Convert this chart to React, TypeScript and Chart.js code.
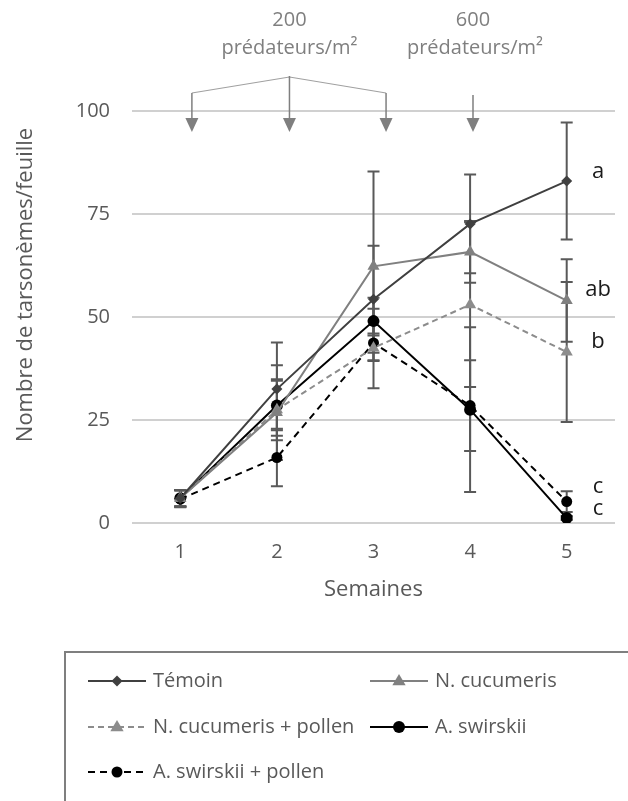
import React, { useEffect, useRef } from 'react';
import { Chart, registerables } from 'chart.js';

Chart.register(...registerables);

// ---- data ----
const weeks = ['1', '2', '3', '4', '5'];
const seriesNames = ['Témoin', 'N. cucumeris', 'N. cucumeris + pollen', 'A. swirskii', 'A. swirskii + pollen'];
const temoin = [6, 32.5, 54.3, 72.6, 83];
const temoinErr = [2, 11.3, 13, 12, 14.2];
const nCucumeris = [6, 26.8, 62.3, 65.8, 54];
const nCucumerisErr = [2, 11.5, 23, 7.5, 10];
const nCucumerisPollen = [6, 27.5, 42.5, 53, 41.5];
const nCucumerisPollenErr = [2, 7.4, 3, 20, 17];
const aSwirskii = [6, 28.5, 49, 27.5, 1.2];
const aSwirskiiErr = [2, 6, 3, 20, 0.5];
const aSwirskiiPollen = [5.8, 15.9, 43.7, 28.5, 5.2];
const aSwirskiiPollenErr = [2, 7, 11, 11, 2.5];
const yMin = 0;
const yMax = 100;
const yStep = 25;
const yTitle = 'Nombre de tarsonèmes/feuille';
const xTitle = 'Semaines';
// releases (category index positions)
const release200 = [0.12, 1.13, 2.13];
const release600 = [3.03];
const release200Text = ['200', 'prédateurs/m²'];
const release600Text = ['600', 'prédateurs/m²'];
const groupLetters = ['a', 'ab', 'b', 'c', 'c'];
const groupLetterValues = [85.3, 56.6, 44, 8.8, 3.4];

const FONT = "'Open Sans', 'DejaVu Sans', sans-serif";
const TEXT = '#595959';

function drawMarker(ctx: CanvasRenderingContext2D, style: string, x: number, y: number, r: number, color: string) {
  ctx.save();
  ctx.fillStyle = color;
  ctx.setLineDash([]);
  ctx.beginPath();
  if (style === 'circle') {
    ctx.arc(x, y, r, 0, Math.PI * 2);
  } else if (style === 'triangle') {
    ctx.moveTo(x, y - r);
    ctx.lineTo(x + r * 0.95, y + r * 0.6);
    ctx.lineTo(x - r * 0.95, y + r * 0.6);
    ctx.closePath();
  } else {
    ctx.moveTo(x, y - r);
    ctx.lineTo(x + r, y);
    ctx.lineTo(x, y + r);
    ctx.lineTo(x - r, y);
    ctx.closePath();
  }
  ctx.fill();
  ctx.restore();
}

const errorBarsPlugin = {
  id: 'errorBars',
  beforeDatasetsDraw(chart: any) {
    const { ctx } = chart;
    const xs = chart.scales.x;
    const ys = chart.scales.y;
    ctx.save();
    ctx.strokeStyle = '#595959';
    ctx.lineWidth = 2;
    chart.data.datasets.forEach((ds: any) => {
      ds.data.forEach((v: number, i: number) => {
        const e = ds.errors[i];
        const px = xs.getPixelForValue(i);
        const top = ys.getPixelForValue(v + e);
        const bot = ys.getPixelForValue(v - e);
        ctx.beginPath();
        ctx.moveTo(px, top);
        ctx.lineTo(px, bot);
        ctx.moveTo(px - 6, top);
        ctx.lineTo(px + 6, top);
        ctx.moveTo(px - 6, bot);
        ctx.lineTo(px + 6, bot);
        ctx.stroke();
      });
    });
    ctx.restore();
  },
};

const annotationsPlugin = {
  id: 'annotations',
  afterDraw(chart: any) {
    const { ctx, chartArea } = chart;
    const xs = chart.scales.x;
    const ys = chart.scales.y;
    const top = chartArea.top;
    ctx.save();
    // y title
    ctx.fillStyle = TEXT;
    ctx.font = `22px ${FONT}`;
    ctx.textAlign = 'center';
    ctx.textBaseline = 'middle';
    ctx.translate(26, 285);
    ctx.rotate(-Math.PI / 2);
    ctx.fillText(yTitle, 0, 0);
    ctx.restore();

    // release arrows
    ctx.save();
    const arrowColor = '#7f7f7f';
    const drawArrow = (px: number, fromY: number) => {
      ctx.strokeStyle = arrowColor;
      ctx.lineWidth = 1.5;
      ctx.beginPath();
      ctx.moveTo(px, fromY);
      ctx.lineTo(px, top + 8);
      ctx.stroke();
      ctx.fillStyle = arrowColor;
      ctx.beginPath();
      ctx.moveTo(px - 6.5, top + 7);
      ctx.lineTo(px + 6.5, top + 7);
      ctx.lineTo(px, top + 21);
      ctx.closePath();
      ctx.fill();
    };
    const p200 = release200.map((v) => xs.getPixelForValue(v));
    const peakX = p200[1];
    ctx.strokeStyle = '#a0a0a0';
    ctx.lineWidth = 1.2;
    ctx.beginPath();
    ctx.moveTo(p200[0], top - 18);
    ctx.lineTo(peakX, top - 34);
    ctx.lineTo(p200[2], top - 18);
    ctx.stroke();
    drawArrow(p200[0], top - 18);
    drawArrow(p200[1], top - 35);
    drawArrow(p200[2], top - 18);
    release600.forEach((v) => drawArrow(xs.getPixelForValue(v), top - 16));

    ctx.fillStyle = '#7f7f7f';
    ctx.font = `20px ${FONT}`;
    ctx.textAlign = 'center';
    ctx.textBaseline = 'middle';
    ctx.fillText(release200Text[0], peakX, 20);
    ctx.fillText(release200Text[1], peakX, 48);
    const p600 = xs.getPixelForValue(release600[0]);
    ctx.fillText(release600Text[0], p600, 20);
    ctx.fillText(release600Text[1], p600 + 2, 48);

    // group letters
    ctx.fillStyle = '#1a1a1a';
    ctx.font = `22px ${FONT}`;
    groupLetters.forEach((l, i) => {
      ctx.fillText(l, chartArea.right - 17, ys.getPixelForValue(groupLetterValues[i]));
    });
    ctx.restore();

    // legend
    ctx.save();
    ctx.strokeStyle = '#7f7f7f';
    ctx.lineWidth = 2;
    ctx.strokeRect(65, 652, 640, 200);
    const cols = [88, 370];
    const rows = [681, 727, 772];
    const sampleLen = 58;
    ctx.font = `20px ${FONT}`;
    ctx.textAlign = 'left';
    ctx.textBaseline = 'middle';
    chart.data.datasets.forEach((ds: any, i: number) => {
      const cx = cols[i % 2];
      const cy = rows[Math.floor(i / 2)];
      ctx.strokeStyle = ds.borderColor;
      ctx.lineWidth = ds.borderWidth;
      ctx.setLineDash(ds.borderDash || []);
      ctx.beginPath();
      ctx.moveTo(cx, cy);
      ctx.lineTo(cx + sampleLen, cy);
      ctx.stroke();
      ctx.setLineDash([]);
      drawMarker(ctx, ds.pointStyle, cx + sampleLen / 2, cy, ds.pointRadius, ds.pointBackgroundColor);
      ctx.fillStyle = TEXT;
      ctx.fillText(ds.label, cx + sampleLen + 7, cy);
    });
    ctx.restore();
  },
};

export default function App() {
  const ref = useRef<HTMLCanvasElement>(null);

  useEffect(() => {
    if (!ref.current) return;
    Chart.defaults.font.family = FONT;
    const mk = (label: string, data: number[], errors: number[], color: string, style: string, r: number, dash: number[]) => ({
      label,
      data,
      errors,
      borderColor: color,
      backgroundColor: color,
      pointBackgroundColor: color,
      pointBorderColor: color,
      pointBorderWidth: 0,
      borderWidth: 2,
      borderDash: dash,
      pointStyle: style,
      pointRadius: r,
      pointHoverRadius: r,
      tension: 0,
      fill: false,
    });
    const chart = new Chart(ref.current, {
      type: 'line',
      data: {
        labels: weeks,
        datasets: [
          mk(seriesNames[0], temoin, temoinErr, '#404040', 'rectRot', 5.5, []),
          mk(seriesNames[1], nCucumeris, nCucumerisErr, '#808080', 'triangle', 7, []),
          mk(seriesNames[2], nCucumerisPollen, nCucumerisPollenErr, '#8c8c8c', 'triangle', 7, [6, 4]),
          mk(seriesNames[3], aSwirskii, aSwirskiiErr, '#000000', 'circle', 6, []),
          mk(seriesNames[4], aSwirskiiPollen, aSwirskiiPollenErr, '#000000', 'circle', 5.5, [7, 5]),
        ] as any,
      },
      options: {
        animation: false,
        responsive: false,
        devicePixelRatio: 1,
        layout: { padding: { top: 111, right: 13, bottom: 801 - 523 - 80, left: 0 } },
        plugins: { legend: { display: false }, tooltip: { enabled: false } },
        scales: {
          x: {
            type: 'category',
            offset: true,
            grid: { display: false, drawTicks: false },
            border: { display: false },
            ticks: { color: TEXT, font: { size: 20 }, padding: 17 },
            title: { display: true, text: xTitle, color: TEXT, font: { size: 22 }, padding: { top: 4, bottom: 0 } },
            afterFit: (s: any) => { s.height = 80; },
          },
          y: {
            min: yMin,
            max: yMax,
            ticks: { stepSize: yStep, color: TEXT, font: { size: 20 }, padding: 22 },
            grid: { color: '#d0d0d0', lineWidth: 2, drawTicks: false },
            border: { display: false },
            afterFit: (s: any) => { s.width = 132; },
          },
        },
      } as any,
      plugins: [errorBarsPlugin, annotationsPlugin],
    });
    return () => chart.destroy();
  }, []);

  return (
    <div style={{ position: 'absolute', left: 0, top: 0, width: 628, height: 801, background: '#fff' }}>
      <canvas ref={ref} width={628} height={801} style={{ width: 628, height: 801, display: 'block' }} />
    </div>
  );
}
